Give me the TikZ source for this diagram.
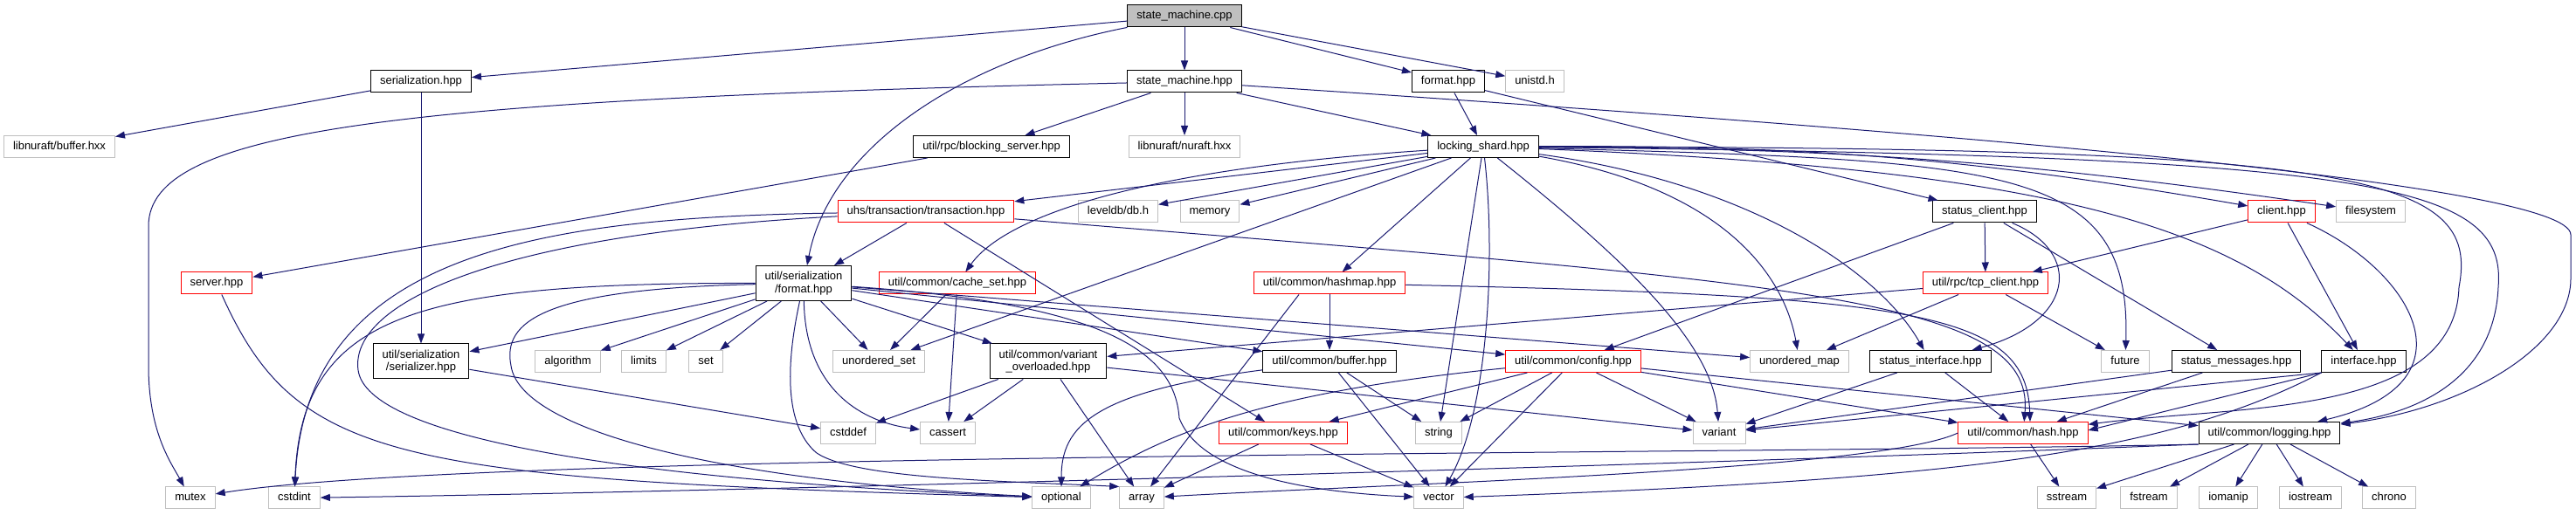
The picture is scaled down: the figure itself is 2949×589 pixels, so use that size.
\documentclass[tikz,border=0pt]{standalone}
\usepackage{fontspec}
\setmainfont{Liberation Sans}
\usetikzlibrary{arrows.meta}
\definecolor{EdgeNavy}{HTML}{191970}
\definecolor{SysGrey}{HTML}{BFBFBF}
\definecolor{RootGrey}{HTML}{BFBFBF}
\definecolor{TruncRed}{HTML}{FF0000}
\tikzset{
  incbox/.style={
    draw, fill=white, line width=1pt,
    inner xsep=10.5pt, inner ysep=0pt,
    minimum height=25pt,
    text height=9.6pt, text depth=2.9pt,
    align=center,
    font=\fontsize{13}{14.7}\selectfont
  },
  docbox/.style={incbox, draw=black},
  truncbox/.style={incbox, draw=TruncRed},
  sysbox/.style={incbox, draw=SysGrey},
  rootbox/.style={incbox, draw=black, fill=RootGrey},
  twoline/.style={text height={}, text depth={}, minimum height=40pt},
  incl/.style={draw=EdgeNavy, line width=1pt, -{Triangle[length=11pt,width=8pt]}}
}

\begin{document}
\begin{tikzpicture}[x=1pt,y=1pt]
  \path[use as bounding box, fill=white] (0,0) rectangle (2949,589);

  \node[rootbox] (cpp) at (1356,570.5) {state\_machine.cpp};
  \node[docbox] (ser) at (482,495.5) {serialization.hpp};
  \node[docbox] (smh) at (1356,495.5) {state\_machine.hpp};
  \node[docbox] (fmt) at (1658,495.5) {format.hpp};
  \node[sysbox] (unistd) at (1757,495.5) {unistd.h};
  \node[sysbox] (bufx) at (68,421) {libnuraft/buffer.hxx};
  \node[docbox] (bsrv) at (1135,421) {util/rpc/blocking\_server.hpp};
  \node[sysbox] (nuraft) at (1356,421) {libnuraft/nuraft.hxx};
  \node[docbox] (lshard) at (1698,421) {locking\_shard.hpp};
  \node[truncbox] (txn) at (1060,346.5) {uhs/transaction/transaction.hpp};
  \node[sysbox] (leveldb) at (1280,346.5) {leveldb/db.h};
  \node[sysbox] (memory) at (1385,346.5) {memory};
  \node[docbox] (sclient) at (2272,346.5) {status\_client.hpp};
  \node[truncbox] (client) at (2612,346.5) {client.hpp};
  \node[sysbox] (filesys) at (2714,346.5) {filesystem};
  \node[truncbox] (server) at (248,264.5) {server.hpp};
  \node[docbox,twoline] (sfmt) at (920,264.5) {util/serialization\\/format.hpp};
  \node[truncbox] (cacheset) at (1096,264.5) {util/common/cache\_set.hpp};
  \node[truncbox] (hashmap) at (1522,264.5) {util/common/hashmap.hpp};
  \node[truncbox] (tcp) at (2273,264.5) {util/rpc/tcp\_client.hpp};
  \node[docbox,twoline] (serializer) at (482,175) {util/serialization\\/serializer.hpp};
  \node[sysbox] (algorithm) at (650,175) {algorithm};
  \node[sysbox] (limits) at (737,175) {limits};
  \node[sysbox] (set) at (808,175) {set};
  \node[sysbox] (uset) at (1006,175) {unordered\_set};
  \node[docbox,twoline] (varov) at (1200,175) {util/common/variant\\\_overloaded.hpp};
  \node[docbox] (cbuf) at (1522,175) {util/common/buffer.hpp};
  \node[truncbox] (config) at (1801,175) {util/common/config.hpp};
  \node[sysbox] (umap) at (2060,175) {unordered\_map};
  \node[docbox] (sintf) at (2210,175) {status\_interface.hpp};
  \node[sysbox] (future) at (2433,175) {future};
  \node[docbox] (smsg) at (2560,175) {status\_messages.hpp};
  \node[docbox] (intf) at (2706,175) {interface.hpp};
  \node[sysbox] (cstddef) at (971,93) {cstddef};
  \node[sysbox] (cassert) at (1085,93) {cassert};
  \node[truncbox] (keys) at (1469,93) {util/common/keys.hpp};
  \node[sysbox] (string) at (1647,93) {string};
  \node[sysbox] (variant) at (1968,93) {variant};
  \node[truncbox] (hash) at (2316,93) {util/common/hash.hpp};
  \node[docbox] (logging) at (2598,93) {util/common/logging.hpp};
  \node[sysbox] (mutex) at (218,18.5) {mutex};
  \node[sysbox] (cstdint) at (337,18.5) {cstdint};
  \node[sysbox] (optional) at (1215,18.5) {optional};
  \node[sysbox] (array) at (1307,18.5) {array};
  \node[sysbox] (vector) at (1647,18.5) {vector};
  \node[sysbox] (sstream) at (2366,18.5) {sstream};
  \node[sysbox] (fstream) at (2460,18.5) {fstream};
  \node[sysbox] (iomanip) at (2551,18.5) {iomanip};
  \node[sysbox] (iostream) at (2645,18.5) {iostream};
  \node[sysbox] (chrono) at (2735,18.5) {chrono};

  \draw[incl] (cpp) -- (ser);
  \draw[incl] (cpp) .. controls (1100,520) and (950,420) .. (sfmt);
  \draw[incl] (cpp) -- (smh);
  \draw[incl] (cpp) -- (fmt);
  \draw[incl] (cpp) -- (unistd);

  \draw[incl] (ser) -- (bufx);
  \draw[incl] (ser) -- (serializer);

  \draw[incl] (smh) .. controls (450,475) and (170,440) .. (170,330) -- (170,170) .. controls (170,95) and (195,60) .. (mutex);
  \draw[incl] (smh) -- (bsrv);
  \draw[incl] (smh) -- (nuraft);
  \draw[incl] (smh) -- (lshard);
  \draw[incl] (smh) .. controls (2200,440) and (2943,380) .. (2943,320) -- (2943,270) .. controls (2943,190) and (2820,120) .. (logging);

  \draw[incl] (fmt) -- (lshard);
  \draw[incl] (fmt) -- (sclient);
  \draw[incl] (bsrv) -- (server);
  \draw[incl] (server) .. controls (340,60) and (450,40) .. (optional);

  \draw[incl] (lshard) -- (txn);
  \draw[incl] (lshard) -- (leveldb);
  \draw[incl] (lshard) -- (memory);
  \draw[incl] (lshard) .. controls (1300,395) and (1150,340) .. (cacheset);
  \draw[incl] (lshard) -- (uset);
  \draw[incl] (lshard) -- (hashmap);
  \draw[incl] (lshard) -- (string);
  \draw[incl] (lshard) .. controls (1712,300) and (1705,120) .. (vector);
  \draw[incl] (lshard) .. controls (1850,300) and (1960,200) .. (variant);
  \draw[incl] (lshard) .. controls (1990,370) and (2045,260) .. (umap);
  \draw[incl] (lshard) .. controls (2000,380) and (2150,280) .. (sintf);
  \draw[incl] (lshard) .. controls (2300,405) and (2440,400) .. (future);
  \draw[incl] (lshard) to[bend left=5] (client);
  \draw[incl] (lshard) to[bend left=4] (filesys);
  \draw[incl] (lshard) .. controls (2350,395) and (2560,330) .. (intf);
  \draw[incl] (lshard) .. controls (2700,420) and (2840,390) .. (2815,260) .. controls (2810,110) and (2560,125) .. (hash);
  \draw[incl] (lshard) .. controls (2720,410) and (2870,380) .. (2860,260) .. controls (2855,150) and (2760,115) .. (logging);

  \draw[incl] (client) -- (tcp);
  \draw[incl] (client) -- (intf);
  \draw[incl] (client) .. controls (2760,280) and (2840,150) .. (logging);

  \draw[incl] (sclient) -- (tcp);
  \draw[incl] (sclient) -- (config);
  \draw[incl] (sclient) .. controls (2385,300) and (2375,220) .. (sintf);
  \draw[incl] (sclient) -- (smsg);

  \draw[incl] (txn) -- (sfmt);
  \draw[incl] (txn) -- (keys);
  \draw[incl] (txn) .. controls (2050,265) and (2330,250) .. (hash);
  \draw[incl] (txn) .. controls (620,340) and (350,300) .. (cstdint);
  \draw[incl] (txn) .. controls (560,320) and (400,240) .. (410,165) .. controls (420,90) and (700,40) .. (optional);

  \draw[incl] (sfmt) -- (serializer);
  \draw[incl] (sfmt) -- (algorithm);
  \draw[incl] (sfmt) -- (limits);
  \draw[incl] (sfmt) -- (set);
  \draw[incl] (sfmt) -- (uset);
  \draw[incl] (sfmt) -- (varov);
  \draw[incl] (sfmt) -- (cbuf);
  \draw[incl] (sfmt) -- (config);
  \draw[incl] (sfmt) -- (umap);
  \draw[incl] (sfmt) .. controls (922,140) and (990,105) .. (cassert);
  \draw[incl] (sfmt) .. controls (895,150) and (905,95) .. (935,70) .. controls (980,40) and (1150,38) .. (array.north west);
  \draw[incl] (sfmt) .. controls (1280,240) and (1345,180) .. (1350,110) .. controls (1375,45) and (1500,25) .. (vector);
  \draw[incl] (sfmt) .. controls (480,265) and (345,230) .. (cstdint);
  \draw[incl] (sfmt) .. controls (620,258) and (575,220) .. (585,170) .. controls (595,100) and (800,40) .. (optional);

  \draw[incl] (serializer) -- (cstddef);
  \draw[incl] (varov) -- (cstddef);
  \draw[incl] (varov) -- (cassert);
  \draw[incl] (varov) -- (array);
  \draw[incl] (varov) -- (variant);
  \draw[incl] (cacheset) -- (uset);
  \draw[incl] (cacheset) -- (cassert);

  \draw[incl] (hashmap) -- (cbuf);
  \draw[incl] ([xshift=-35pt]hashmap.south) -- (array);
  \draw[incl] (hashmap) .. controls (2200,250) and (2320,230) .. ([xshift=8pt]hash.north);

  \draw[incl] (tcp) -- (varov);
  \draw[incl] (tcp) -- (umap);
  \draw[incl] (tcp) -- (future);

  \draw[incl] (cbuf) .. controls (1250,140) and (1215,100) .. (optional);
  \draw[incl] (cbuf) -- (string);
  \draw[incl] (cbuf) -- (vector);

  \draw[incl] (config) -- (keys);
  \draw[incl] (config) -- (string);
  \draw[incl] (config) -- (vector);
  \draw[incl] (config) -- (variant);
  \draw[incl] (config) .. controls (1450,140) and (1340,95) .. (optional);
  \draw[incl] (config) -- (hash);
  \draw[incl] (config) -- (logging);

  \draw[incl] (sintf) -- (variant);
  \draw[incl] (sintf) -- (hash);
  \draw[incl] (smsg) -- (variant);
  \draw[incl] (smsg) -- (hash);
  \draw[incl] (intf.south west) -- ([yshift=3pt]hash.east);
  \draw[incl] (intf.south west) -- (variant);
  \draw[incl] (intf.south west) .. controls (2480,70) and (2250,40) .. (vector);

  \draw[incl] (keys) -- (array);
  \draw[incl] (keys) -- (vector);
  \draw[incl] (hash) -- (sstream);
  \draw[incl] (hash.west) .. controls (2150,50) and (1600,35) .. (array);

  \draw[incl] (logging) -- (sstream);
  \draw[incl] (logging) -- (fstream);
  \draw[incl] (logging) -- (iomanip);
  \draw[incl] (logging) -- (iostream);
  \draw[incl] (logging) -- (chrono);
  \draw[incl] (logging.south west) .. controls (2000,68) and (550,72) .. (mutex);
  \draw[incl] (logging.south west) .. controls (1900,55) and (800,25) .. (cstdint);
\end{tikzpicture}
\end{document}
